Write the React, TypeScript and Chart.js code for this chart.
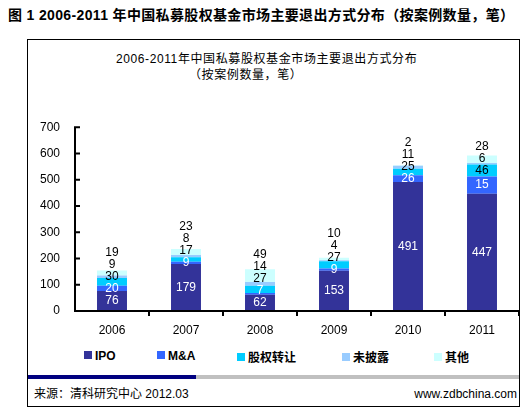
import React, { useEffect, useRef } from "react";
import { Chart, registerables } from "chart.js";

Chart.register(...registerables);

const categories = ["2006", "2007", "2008", "2009", "2010", "2011"];
const ipo = [76, 179, 62, 153, 491, 447];
const ma = [20, 9, 7, 9, 26, 65];
const maLabelText = ["20", "9", "7", "9", "26", "15"];
const equity = [30, 17, 27, 27, 25, 46];
const undisclosed = [9, 8, 14, 4, 11, 6];
const other = [19, 23, 49, 10, 2, 28];
const yTicks = [0, 100, 200, 300, 400, 500, 600, 700];
const seriesNames = ["IPO", "M&A", "股权转让", "未披露", "其他"];
const seriesColors = ["#333399", "#3366FF", "#00CCFF", "#99CCFF", "#CCFFFF"];
const labelColors = ["#ffffff", "#ffffff", "#000000", "#000000", "#000000"];

const FONT = "'Liberation Sans', Arial, 'Noto Sans CJK SC', sans-serif";

const labelTexts = [
  ipo.map(String),
  maLabelText,
  equity.map(String),
  undisclosed.map(String),
  other.map(String),
];

const labelPlugin = {
  id: "segLabels",
  afterDatasetsDraw(chart: any) {
    const ctx = chart.ctx;
    ctx.save();
    ctx.font = "12px " + FONT;
    ctx.textAlign = "center";
    ctx.textBaseline = "middle";
    categories.forEach((_, i) => {
      let prev = Infinity;
      chart.data.datasets.forEach((_ds: any, d: number) => {
        const el = chart.getDatasetMeta(d).data[i] as any;
        const c = (el.y + el.base) / 2;
        const y = Math.min(c, prev - 12);
        prev = y;
        ctx.fillStyle = labelColors[d];
        ctx.fillText(labelTexts[d][i], el.x, y);
      });
    });
    ctx.restore();
  },
};

const axesPlugin = {
  id: "axesLines",
  afterDraw(chart: any) {
    const ctx = chart.ctx;
    const { left, right, top, bottom } = chart.chartArea;
    const ys = chart.scales.y;
    const xs = chart.scales.x;
    ctx.save();
    ctx.strokeStyle = "#000";
    ctx.lineWidth = 2;
    ctx.beginPath();
    ctx.moveTo(left, top - 1);
    ctx.lineTo(left, bottom);
    ctx.lineTo(right + 1, bottom);
    yTicks.forEach((v) => {
      const py = ys.getPixelForValue(v);
      ctx.moveTo(left, py);
      ctx.lineTo(left + 5, py);
    });
    const half = (xs.getPixelForValue(1) - xs.getPixelForValue(0)) / 2;
    categories.forEach((_, k) => {
      const px = xs.getPixelForValue(k) + half;
      ctx.moveTo(px, bottom);
      ctx.lineTo(px, bottom + 5);
    });
    ctx.stroke();
    ctx.restore();
  },
};

function ChartCanvas() {
  const ref = useRef<HTMLCanvasElement | null>(null);
  useEffect(() => {
    if (!ref.current) return;
    const values = [ipo, ma, equity, undisclosed, other];
    const chart = new Chart(ref.current, {
      type: "bar",
      data: {
        labels: categories,
        datasets: seriesNames.map((name, d) => ({
          label: name,
          data: values[d],
          backgroundColor: seriesColors[d],
          borderWidth: 0,
          barPercentage: 0.405,
          categoryPercentage: 1,
        })),
      },
      options: {
        animation: false,
        responsive: false,
        maintainAspectRatio: false,
        devicePixelRatio: 1,
        layout: { padding: { top: 10, right: 2, left: 0, bottom: 0 } },
        plugins: {
          legend: { display: false },
          title: { display: false },
          tooltip: { enabled: false },
        },
        scales: {
          x: {
            stacked: true,
            grid: { display: false, drawTicks: false },
            border: { display: false },
            ticks: {
              color: "#000",
              font: { size: 12, family: FONT },
              padding: 12,
              maxRotation: 0,
              autoSkip: false,
            },
            afterFit: (s: any) => {
              s.height = 29;
            },
          },
          y: {
            stacked: true,
            min: 0,
            max: 700,
            grid: { display: false, drawTicks: false },
            border: { display: false },
            ticks: {
              stepSize: 100,
              color: "#000",
              font: { size: 12, family: FONT },
              padding: 15,
            },
            afterFit: (s: any) => {
              s.width = 48;
            },
          },
        },
      },
      plugins: [labelPlugin, axesPlugin],
    } as any);
    return () => chart.destroy();
  }, []);
  return (
    <canvas
      ref={ref}
      width={494}
      height={235}
      style={{ position: "absolute", left: 27, top: 105, width: 494, height: 235 }}
    />
  );
}

const legendLefts = [84, 157, 237, 342, 434];

export default function App() {
  const abs = (o: React.CSSProperties): React.CSSProperties => ({ position: "absolute", ...o });
  return (
    <div style={abs({ left: 0, top: 0, width: 530, height: 418, background: "#fff", fontFamily: FONT })}>
      <div
        style={abs({
          left: 8,
          top: 6,
          fontSize: 14,
          fontWeight: "bold",
          lineHeight: "18px",
          letterSpacing: "0.35px",
          whiteSpace: "nowrap",
          color: "#000",
        })}
      >
        图 1 2006-2011 年中国私募股权基金市场主要退出方式分布（按案例数量，笔）
      </div>
      <div
        style={abs({
          left: 27,
          top: 39,
          width: 491,
          height: 366,
          border: "1px solid #000",
          boxSizing: "content-box",
        })}
      />
      <div style={abs({ left: 116, top: 51, fontSize: 12, letterSpacing: "0.6px", lineHeight: "16px", whiteSpace: "nowrap" })}>
        2006-2011年中国私募股权基金市场主要退出方式分布
      </div>
      <div style={abs({ left: 189, top: 67, fontSize: 12, letterSpacing: "0.6px", lineHeight: "16px", whiteSpace: "nowrap" })}>
        （按案例数量，笔）
      </div>
      <ChartCanvas />
      {seriesNames.map((name, d) => (
        <div key={name} style={abs({ left: legendLefts[d], top: d < 2 ? 346 : 348, height: 16, whiteSpace: "nowrap" })}>
          <span
            style={{
              display: "inline-block",
              width: 8,
              height: 8,
              background: seriesColors[d],
              marginRight: 3,
              verticalAlign: "middle",
              position: "relative",
              top: -1,
            }}
          />
          <span style={{ fontSize: 12, fontWeight: "bold", lineHeight: "16px", verticalAlign: "middle" }}>{name}</span>
        </div>
      ))}
      <div style={abs({ left: 28, top: 375, width: 168, height: 4, background: "#000080" })} />
      <div style={abs({ left: 196, top: 375, width: 323, height: 4, background: "#C0C0C0" })} />
      <div style={abs({ left: 34, top: 386, fontSize: 12, lineHeight: "16px", whiteSpace: "nowrap" })}>
        来源：清科研究中心 2012.03
      </div>
      <div style={abs({ right: 530 - 517, top: 386, fontSize: 12, lineHeight: "16px", whiteSpace: "nowrap" })}>
        www.zdbchina.com
      </div>
    </div>
  );
}
